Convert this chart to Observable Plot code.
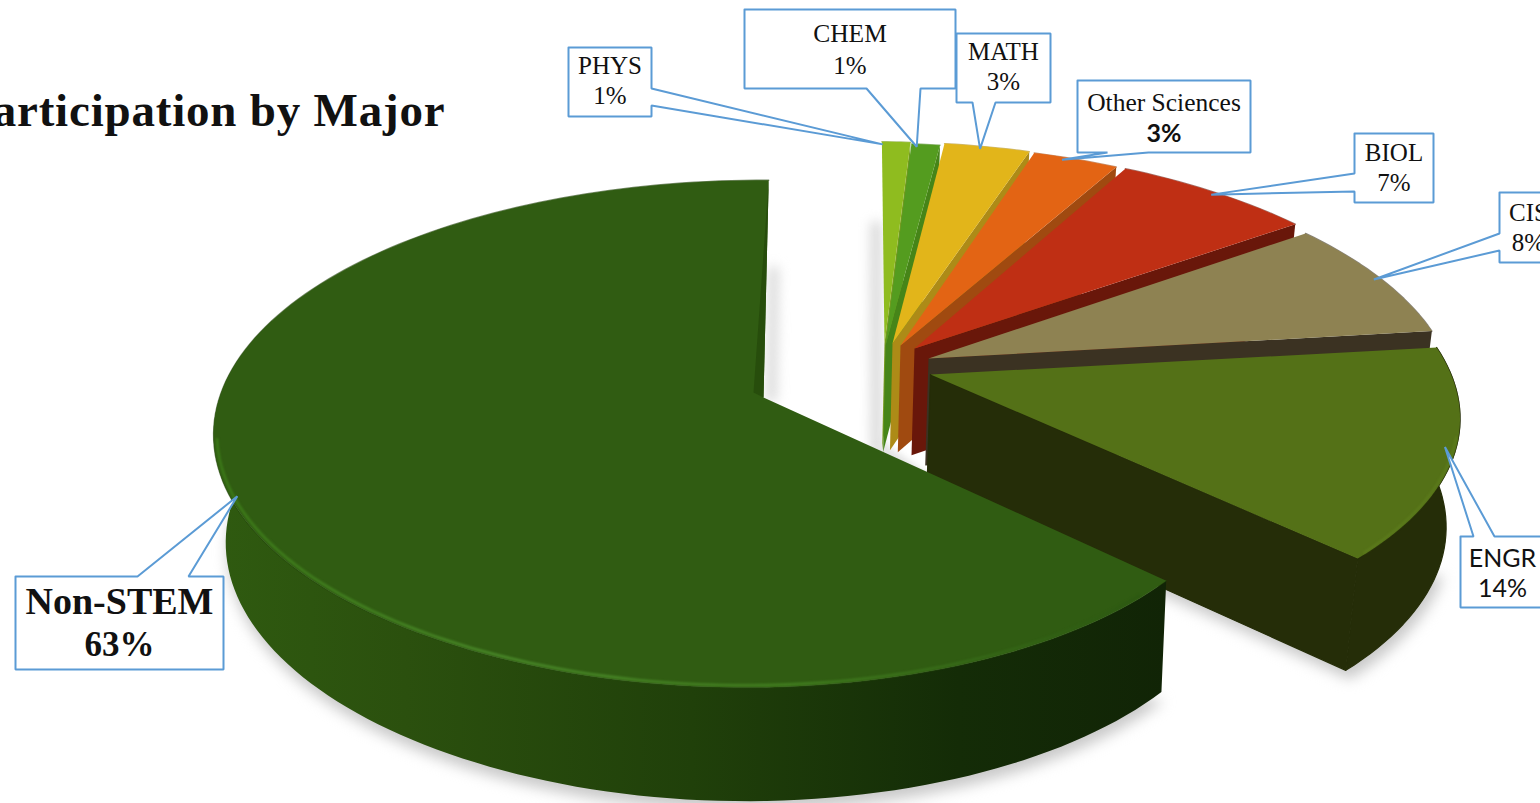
<!DOCTYPE html>
<html>
<head>
<meta charset="utf-8">
<style>html,body{margin:0;padding:0;background:#fff;overflow:hidden}svg{display:block}</style>
<script src="https://cdn.jsdelivr.net/npm/d3@7"></script>
<script src="https://cdn.jsdelivr.net/npm/@observablehq/plot@0.6"></script>
</head>
<body>
<script>
// ---- data ----
const titleText = "Participation by Major";
const categories = ["PHYS", "CHEM", "MATH", "Other Sciences", "BIOL", "CIS", "ENGR", "Non-STEM"];
const shares = [1, 1, 3, 3, 7, 8, 14, 63];
const topColours = ["#8fbc1f", "#549c1f", "#e2b51a", "#e36414", "#bf2f14", "#8e8252", "#547117", "#305c12"];
const wallColours = ["#759a1f", "#468518", "#ad8b17", "#a04a10", "#69170a", "#3b3222", "#252d08", "url(#nonStemWall)"];

// ---- projection of the tilted disc ----
const firstAngle = 1.5, R = 544, Ry = 249, cx = 765, cy = 397, tilt = 0.146;
const apexX = [884, 885, 892, 900, 914, 928, 930, 763];
const apexY = [343, 345, 343, 345, 348, 358, 374, 397];
const sliceRadius = [0.985, 0.985, 0.985, 0.985, 0.985, 0.975, 0.97, 1];
const startTurn = [0, 0, -0.2, -0.5, -1, -1.2, -1, 0.1];
const endTurn = [0, 0, -0.2, -0.5, -1, -1.2, 0.2, -0.9];
const depthBase = [108, 108, 108, 108, 108, 108, 108, 107];
const wallInsetLeft = 0.978;
const wallInsetRight = [0.98, 0.98, 0.98, 0.98, 0.98, 0.98, 0.98, 0.988];

// ---- callout layout ----
const boxLeft = [568, 744, 956, 1077, 1354, 1499, 1460, 15];
const boxTop = [47, 9, 33, 80, 133, 192, 536, 576];
const boxRight = [651, 955, 1050, 1250, 1433, 1557, 1544, 223];
const boxBottom = [116, 88, 102, 152, 202, 262, 607, 669];
const pointerSide = ["right", "bottom", "bottom", "bottom", "left", "left", "top", "top"];
const pointerA = [88, 866, 972, 1107, 173, 233, 1473, 137];
const pointerB = [105, 920, 995, 1148, 191, 250, 1494, 188];
const tipFraction = [0.03, 0.2, 0.43, 0.36, 0.5, 0.5, 0.47, 0.5];
const tipScale = [0.985, 0.985, 0.985, 0.985, 0.985, 0.985, 0.98, 0.988];
const serif = "'Liberation Serif', serif", sans = "Lato, 'Open Sans', sans-serif";
const nameFont = [serif, serif, serif, serif, serif, serif, sans, serif];
const pctFont = [serif, serif, serif, sans, serif, serif, sans, serif];
const nameSize = [25, 25.5, 25, 25.5, 25, 25, 25, 38];
const pctSize = [25, 25, 25, 25, 25, 25, 25, 35];
const boldName = [0, 0, 0, 0, 0, 0, 0, 1];
const boldPct = [0, 0, 0, 1, 0, 0, 0, 1];
const lineGap = [15, 16, 15, 15.5, 15, 15, 15, 21.5];
const labelNudge = [-1, 1, -1, 1.5, 0, 0, 2, 0];

// ---- geometry derived from the shares ----
const total = d3.sum(shares);
const cumulative = d3.cumsum(shares);
const rad = d => d * Math.PI / 180;
const project = (u, v) => {
  const s = 1 / (1 + tilt * v);
  return {x: cx + R * u * s, y: cy - Ry * v * s, s};
};
const slices = categories.map((name, i) => {
  const a0 = firstAngle + 360 * (cumulative[i] - shares[i]) / total + startTurn[i];
  const a1 = firstAngle + 360 * cumulative[i] / total + endTurn[i];
  const a = (apexX[i] - cx) / R, b = (cy - apexY[i]) / Ry, sc = 1 - tilt * b;
  const u0 = a / sc, v0 = b / sc;
  const taper = deg => i === 7 && deg < 200 ? 1 - 0.057 * Math.pow((200 - deg) / 65, 2) : 1;
  const at = (deg, k = 1) => {
    const r = sliceRadius[i] * taper(deg) * k;
    return {...project(u0 + r * Math.sin(rad(deg)), v0 + r * Math.cos(rad(deg))), deg};
  };
  const steps = Math.max(6, Math.ceil((a1 - a0) / 1.5));
  const arc = d3.range(steps + 1).map(k => at(a0 + (a1 - a0) * k / steps));
  const lower = p => ({x: cx + (p.x - cx) * (p.x < cx ? wallInsetLeft : wallInsetRight[i]), y: p.y + depthBase[i] + 40 * (p.s - 1), s: p.s});
  return {name, a0, a1, at, arc, lower, apex: project(u0, v0)};
});

const poly = (points, fill, extra = {}) => Plot.line(points, {x: "x", y: "y", fill, stroke: "none", curve: "linear", ...extra});
const stroke = (points, colour, width, extra = {}) => Plot.line(points, {x: "x", y: "y", stroke: colour, strokeWidth: width, curve: "linear", ...extra});
const sliceMarks = [];
const nonStem = slices[7], engr = slices[6], phys = slices[0];
const shift = (pts, dx, dy) => pts.map(p => ({x: p.x + dx, y: p.y + dy}));

// soft ground shadows
const wallArc = s => s === nonStem ? s.arc.filter(p => p.deg < 290) : s.arc;
const outerWall = s => [...wallArc(s), ...wallArc(s).map(s.lower).reverse()];
const shadowMarks = [
  poly(shift(nonStem.arc.filter(p => p.s > 1).map(nonStem.lower), 2, 9), "#c9c9c9", {imageFilter: "blur(7px)"}),
  poly(shift([engr.lower(engr.apex), ...engr.arc.slice(18).map(engr.lower)], 4, 9), "#c9c9c9", {imageFilter: "blur(7px)"}),
  stroke([{x: phys.at(phys.a0, 0.55).x - 7, y: phys.at(phys.a0, 0.55).y}, {x: phys.apex.x - 8, y: phys.lower(phys.apex).y}], "#d8d8d8", 11, {imageFilter: "blur(6px)"}),
  stroke([{x: nonStem.at(nonStem.a1, 0.55).x + 7, y: nonStem.at(nonStem.a1, 0.55).y}, {x: nonStem.apex.x + 8, y: nonStem.apex.y}], "#d8d8d8", 10, {imageFilter: "blur(6px)"}),
  stroke([phys.lower(phys.apex), engr.lower(engr.apex)], "#e4e4e4", 14, {imageFilter: "blur(3px)"})
];

slices.forEach((s, i) => {
  const corner = s.arc[s.arc.length - 1];
  const seam = i === 7 ? {} : {stroke: wallColours[i], strokeWidth: 1.2};
  if (i >= 6) sliceMarks.push(poly(outerWall(s), wallColours[i], seam));
  if (i < 7) sliceMarks.push(poly([corner, s.apex, s.lower(s.apex), s.lower(corner)], wallColours[i], i === 6 ? seam : {}));
  sliceMarks.push(stroke(s.arc, i === 7 ? "#1f3f0a" : wallColours[i], 1.4, {strokeOpacity: 0.6}));
  sliceMarks.push(poly([s.apex, ...s.arc, s.apex], topColours[i]));
});
// dark inner strip on the far cut edge of the large slice, and its front bevel
const farCorner = nonStem.arc[nonStem.arc.length - 1];
sliceMarks.push(poly([farCorner, nonStem.apex, {x: nonStem.apex.x - 10, y: nonStem.apex.y - 5}], "#274d0c"));
const rimPts = d3.range(139, 262, 1.5).map(d => nonStem.at(d, 0.994));
sliceMarks.push(stroke(rimPts, "url(#nonStemRim)", 2.6, {imageFilter: "blur(0.8px)"}));
const engrRim = d3.range(105, 134, 1.5).map(d => engr.at(d, 0.996));
sliceMarks.push(stroke(engrRim, "#5f7f1e", 1.6, {imageFilter: "blur(0.8px)"}));

// callouts
const calloutMarks = [];
slices.forEach((s, i) => {
  const l = boxLeft[i], t = boxTop[i], r = boxRight[i], b = boxBottom[i];
  const p = pointerA[i], q = pointerB[i], side = pointerSide[i];
  const tip = s.at(s.a0 + (s.a1 - s.a0) * tipFraction[i], tipScale[i]);
  const path = [{x: l, y: t}];
  if (side === "top") path.push({x: p, y: t}, tip, {x: q, y: t});
  path.push({x: r, y: t});
  if (side === "right") path.push({x: r, y: p}, tip, {x: r, y: q});
  path.push({x: r, y: b});
  if (side === "bottom") path.push({x: q, y: b}, tip, {x: p, y: b});
  path.push({x: l, y: b});
  if (side === "left") path.push({x: l, y: q}, tip, {x: l, y: p});
  path.push({x: l, y: t});
  calloutMarks.push(Plot.line(path, {x: "x", y: "y", fill: "#fff", stroke: "#5b9bd5", strokeWidth: 2, curve: "linear", strokeLinejoin: "miter"}));
  const mx = (l + r) / 2, my = (t + b) / 2 + labelNudge[i];
  calloutMarks.push(Plot.text([{x: mx, y: my - lineGap[i], t: s.name}], {
    x: "x", y: "y", text: "t", fontFamily: nameFont[i], fontSize: nameSize[i],
    fontWeight: boldName[i] ? "bold" : "normal", fill: "#111", textAnchor: "middle", lineAnchor: "middle"
  }));
  calloutMarks.push(Plot.text([{x: mx, y: my + lineGap[i], t: shares[i] + "%"}], {
    x: "x", y: "y", text: "t", fontFamily: pctFont[i], fontSize: pctSize[i],
    fontWeight: boldPct[i] ? "bold" : "normal", fill: "#111", textAnchor: "middle", lineAnchor: "middle"
  }));
});

const defs = () => {
  const d = document.createElementNS("http://www.w3.org/2000/svg", "defs");
  d.innerHTML = `
  <linearGradient id="nonStemWall" gradientUnits="userSpaceOnUse" x1="215" y1="0" x2="1168" y2="0">
    <stop offset="0" stop-color="#2f5a10"/><stop offset="0.2" stop-color="#2b500e"/>
    <stop offset="0.5" stop-color="#20400a"/><stop offset="0.78" stop-color="#142c07"/>
    <stop offset="1" stop-color="#112406"/></linearGradient>
  <linearGradient id="nonStemRim" gradientUnits="userSpaceOnUse" x1="215" y1="0" x2="1168" y2="0">
    <stop offset="0" stop-color="#3c7a18"/><stop offset="0.3" stop-color="#4a8a2a"/>
    <stop offset="0.6" stop-color="#427f20"/><stop offset="1" stop-color="#2a5410"/></linearGradient>`;
  return d;
};

const chart = Plot.plot({
  width: 1540, height: 803, margin: 0,
  x: {type: "linear", domain: [0, 1540], range: [0, 1540], axis: null},
  y: {type: "linear", domain: [0, 803], range: [0, 803], axis: null},
  style: {background: "#fff"},
  marks: [
    defs,
    ...shadowMarks,
    ...sliceMarks,
    ...calloutMarks,
    Plot.text([{x: 445, y: 110, t: titleText}], {
      x: "x", y: "y", text: "t", fontFamily: serif, fontSize: 47, fontWeight: "bold",
      fill: "#111", textAnchor: "end", lineAnchor: "middle"
    })
  ]
});
chart.querySelectorAll("text").forEach(t => { if (t.textContent === titleText) t.style.letterSpacing = "0.8px"; });
document.body.append(chart);
</script>
</body>
</html>
